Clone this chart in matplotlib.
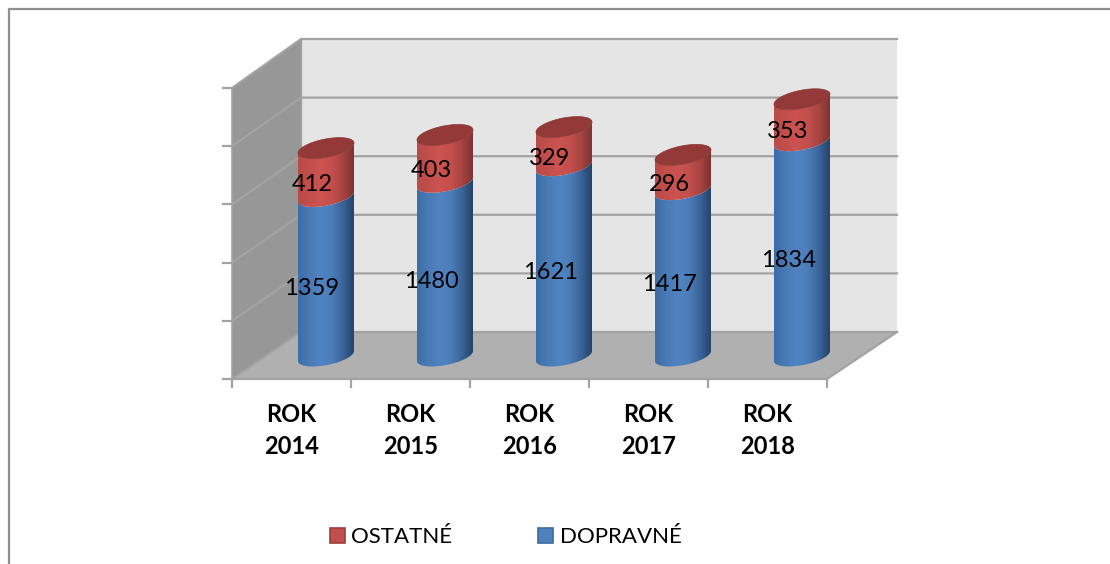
import numpy as np
import matplotlib
matplotlib.use("Agg")
import matplotlib.pyplot as plt
from matplotlib.colors import LinearSegmentedColormap
from matplotlib.patches import Polygon, Rectangle

categories = [["ROK", "2014"], ["ROK", "2015"], ["ROK", "2016"], ["ROK", "2017"], ["ROK", "2018"]]
dopravne = [1359, 1480, 1621, 1417, 1834]
ostatne = [412, 403, 329, 296, 353]
series_names = ["OSTATNÉ", "DOPRAVNÉ"]

W, H = 1110, 564
plt.rcParams['font.family'] = ['Lato', 'DejaVu Sans']
fig = plt.figure(figsize=(W / 100, H / 100), dpi=100, facecolor='white')

# Decoration layer in pixel coordinates
deco = fig.add_axes([0, 0, 1, 1])
deco.set_xlim(0, W)
deco.set_ylim(H, 0)
deco.axis('off')

# outer frame: left and top only are visible in the crop
frame_c = '#8f8f8f'
deco.plot([9, 9, W + 5], [H + 5, 9, 9], color=frame_c, lw=1.6, zorder=1)

# walls
fx0, fx1, fy = 232, 827, 379
bx0, bx1, by = 301, 897, 332
top_b, top_f = 39, 88
deco.add_patch(Polygon([(bx0, top_b), (bx1, top_b), (bx1, by), (bx0, by)], fc='#e5e5e5', ec='none', zorder=1))
deco.add_patch(Polygon([(fx0, fy), (fx1, fy), (bx1, by), (bx0, by)], fc='#b0b0b0', ec='none', zorder=1))
deco.add_patch(Polygon([(fx0, top_f), (bx0, top_b), (bx0, by), (fx0, fy)], fc='#979797', ec='none', zorder=1))

grid_c = '#a3a3a3'
lw_g = 1.6
for k in range(6):
    yb = top_b + (by - top_b) * k / 5
    yf = top_f + (fy - top_f) * k / 5
    deco.plot([fx0, bx0, bx1], [yf, yb, yb], color=grid_c, lw=lw_g, zorder=2, solid_joinstyle='miter')
    deco.plot([fx0 - 9, fx0], [yf, yf], color=grid_c, lw=lw_g, zorder=2)
deco.plot([bx0, bx0], [top_b, by], color=grid_c, lw=1.0, zorder=2)
deco.plot([fx0, fx0], [top_f, fy + 8], color=grid_c, lw=1.2, zorder=2)
deco.plot([fx0, fx1, bx1], [fy, fy, by], color=grid_c, lw=lw_g, zorder=2)
for k in range(6):
    xt = fx0 + (fx1 - fx0) * k / 5
    deco.plot([xt, xt], [fy, fy + 8], color=grid_c, lw=lw_g, zorder=2)

# Data layer: category index on x, values on y (mid-depth plane of the 3D box)
step = (fx1 - fx0) / 5
base_px, scale = 356.0, 0.1174
ymax = 2500
top_px = base_px - ymax * scale
x_left = 326 - 0.5 * step
ax = fig.add_axes([x_left / W, 1 - base_px / H, 5 * step / W, (base_px - top_px) / H], facecolor='none')
ax.set_xlim(-0.5, 4.5)
ax.set_ylim(0, ymax)
ax.axis('off')

blue = LinearSegmentedColormap.from_list('b', ['#3c6da6', '#4a7ab5', '#5083c2', '#4c7eba', '#3b659a', '#244468'])
red = LinearSegmentedColormap.from_list('r', ['#b84b48', '#c24f4c', '#cc5350', '#c44f4c', '#a84441', '#7c3331'])
cap_c = '#933a38'

rx = 28 / step
sh = 5 / scale
rb = 9.2 / scale
t = np.linspace(0, 2 * np.pi, 121)


def rim(i, v, tt):
    return i + rx * np.cos(tt), v + sh * np.cos(tt) - rb * np.sin(tt)


def segment(i, v0, v1, cmap, z):
    # front half of lower rim, then back along the front half of upper rim
    tt = np.linspace(0, np.pi, 61)
    xa, ya = rim(i, v0, tt)
    xb, yb = rim(i, v1, tt[::-1])
    poly = Polygon(np.c_[np.r_[xa, xb], np.r_[ya, yb]], closed=True, fc='none', ec='none',
                   transform=ax.transData)
    ax.add_patch(poly)
    im = ax.imshow(np.linspace(0, 1, 256).reshape(1, -1), cmap=cmap, aspect='auto',
                   extent=(i - rx, i + rx, v0 - 2 * rb, v1 + 2 * rb), zorder=z, interpolation='bilinear')
    im.set_clip_box(fig.bbox)
    im.set_clip_path(poly)


for i, (d, o) in enumerate(zip(dopravne, ostatne)):
    segment(i, 0, d, blue, 3)
    segment(i, d, d + o, red, 3.1)
    xc, yc = rim(i, d + o, t)
    ax.fill(xc, yc, fc=cap_c, ec='#8a3634', lw=0.5, zorder=3.2, clip_on=False)
ax.set_xlim(-0.5, 4.5)
ax.set_ylim(0, ymax)

# value labels
lab_kw = dict(textcoords='offset pixels', xytext=(-14, -12), ha='center', va='center',
              fontsize=17, color='black', zorder=5, annotation_clip=False)
for i, (d, o) in enumerate(zip(dopravne, ostatne)):
    ax.annotate(str(d), (i, d / 2), **lab_kw)
    ax.annotate(str(o), (i, d + o / 2), **lab_kw)

# category labels
for i, lines in enumerate(categories):
    xc = fx0 + step * (i + 0.5)
    deco.text(xc, 415, lines[0], ha='center', va='center', fontsize=17, fontweight='bold', color='black')
    deco.text(xc, 447, lines[1], ha='center', va='center', fontsize=17, fontweight='bold', color='black')

# legend
deco.add_patch(Rectangle((330, 528), 15, 15, fc='#c0504d', ec='#9a3f3d', lw=1.2))
deco.text(351, 537, series_names[0], ha='left', va='center', fontsize=16, color='black')
deco.add_patch(Rectangle((538, 528), 15, 15, fc='#4f81bd', ec='#3e6a9e', lw=1.2))
deco.text(560, 537, series_names[1], ha='left', va='center', fontsize=16, color='black')

fig.savefig('out.png', dpi=100)
